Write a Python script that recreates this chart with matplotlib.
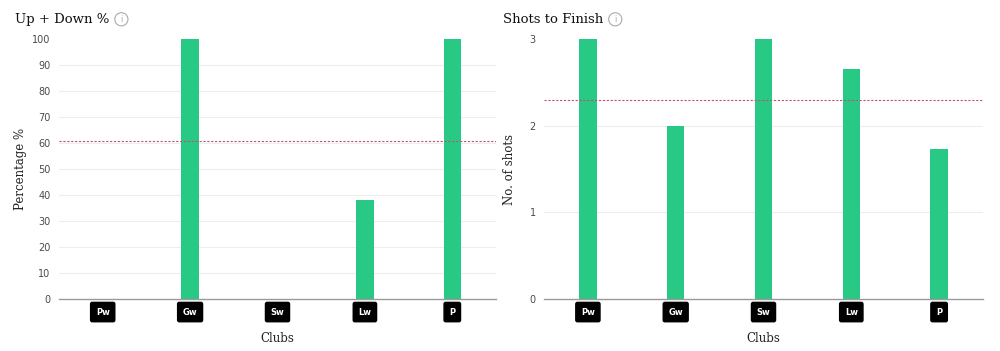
import matplotlib
matplotlib.use("Agg")
import matplotlib.pyplot as plt

# data
clubs = ["Pw", "Gw", "Sw", "Lw", "P"]
up_down_pct = [0, 100, 0, 38, 100]
up_down_avg = 60.6
shots_to_finish = [3, 2, 3, 2.65, 1.73]
shots_avg = 2.3

bar_color = "#28c985"
avg_color = "#c0566a"
tick_color = "#4a4a4a"
serif = "DejaVu Serif"
sans = "DejaVu Sans"

fig = plt.figure(figsize=(10, 3.51), dpi=100)


def draw_panel(rect, values, avg, yticks, ylabel, ylabel_x, title, title_x):
    ax = fig.add_axes(rect)
    x = list(range(len(clubs)))
    ax.bar(x, values, width=0.2, color=bar_color, zorder=3)
    ax.set_xlim(-0.5, len(clubs) - 0.5)
    ax.set_ylim(0, yticks[-1])

    # grid lines (not at 0 or top)
    for t in yticks[1:-1]:
        ax.axhline(t, color="#eeeeee", linewidth=0.8, zorder=1)
    ax.axhline(0, color="#999999", linewidth=1.0, zorder=4, clip_on=False)
    ax.axhline(avg, color=avg_color, linewidth=0.8, linestyle=(0, (2, 1.5)), zorder=5)

    for s in ax.spines.values():
        s.set_visible(False)
    ax.set_yticks(yticks)
    ax.set_yticklabels([str(t) for t in yticks], fontsize=7, color=tick_color, family=sans)
    ax.tick_params(axis="y", length=0, pad=6)
    ax.set_xticks([])

    # club badges
    for i, c in enumerate(clubs):
        ax.text(i, -0.05, c, transform=ax.get_xaxis_transform(), ha="center", va="center",
                fontsize=6, fontweight="bold", color="white", family=sans,
                bbox=dict(boxstyle="round,pad=0.62,rounding_size=0.2", fc="black", ec="black"))

    ax.set_ylabel(ylabel, fontsize=8.5, family=serif, color="#222222")
    ax.yaxis.set_label_coords(ylabel_x, 0.5)
    ax.set_xlabel("Clubs", fontsize=8.5, family=serif, color="#222222")
    ax.xaxis.set_label_coords(0.5, -0.125)

    t = fig.text(title_x, 0.945, title, fontsize=9.5, family=serif, color="#111111", va="center")
    fig.canvas.draw()
    bb = t.get_window_extent()
    ix = (bb.x1 + 12) / fig.bbox.width
    fig.text(ix, 0.945, "i", fontsize=6, family=sans, color="#aaaaaa", ha="center", va="center",
             bbox=dict(boxstyle="circle,pad=0.25", fc="white", ec="#aaaaaa", lw=0.8))
    return ax


draw_panel([0.059, 0.148, 0.437, 0.741], up_down_pct, up_down_avg,
           [0, 10, 20, 30, 40, 50, 60, 70, 80, 90, 100], "Percentage %", -0.073,
           "Up + Down %", 0.015)
draw_panel([0.544, 0.148, 0.439, 0.741], shots_to_finish, shots_avg,
           [0, 1, 2, 3], "No. of shots", -0.064, "Shots to Finish", 0.503)

fig.savefig("out.png", dpi=100, facecolor="white")
